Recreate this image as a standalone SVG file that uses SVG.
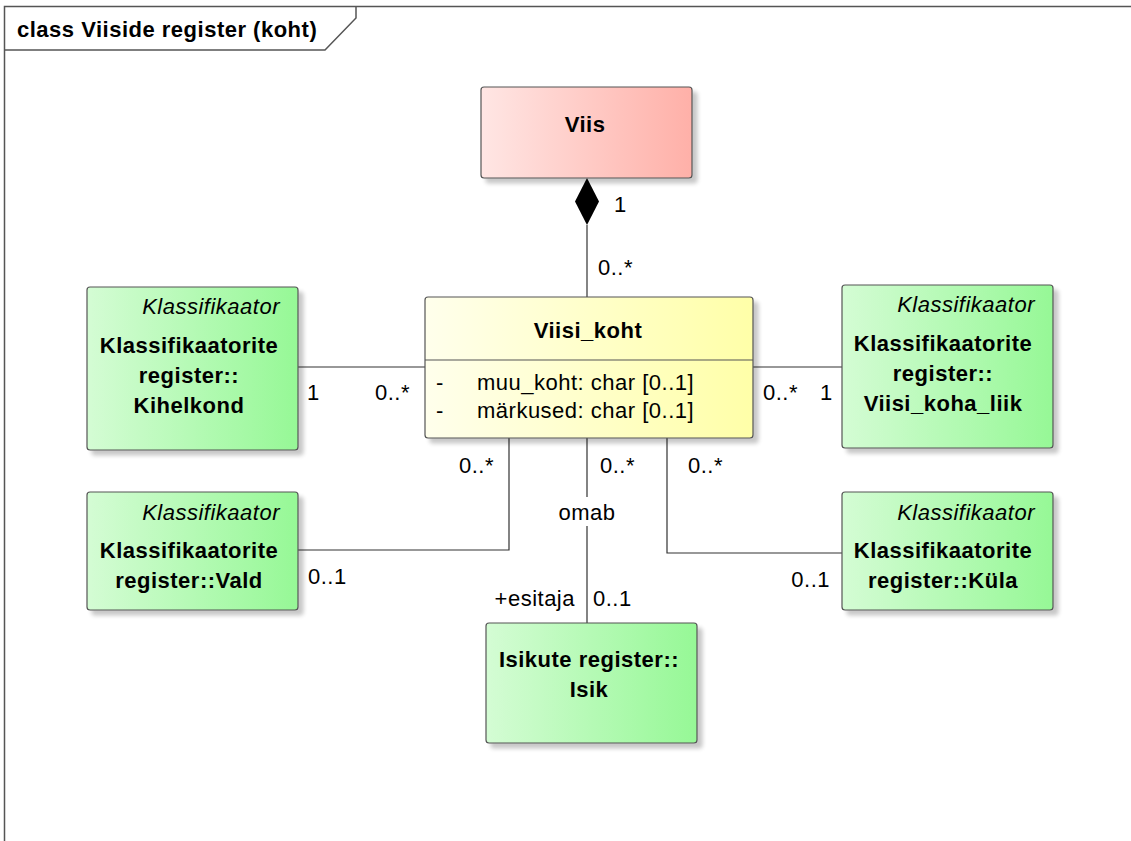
<svg xmlns="http://www.w3.org/2000/svg" width="1131" height="841" viewBox="0 0 1131 841">
<style>
text{font-family:"Liberation Sans",Arial,sans-serif;font-size:22px;letter-spacing:0.5px;fill:#000}
.b{font-weight:bold}
.i{font-style:italic}
.m{text-anchor:middle}
.e{text-anchor:end}
.box{stroke:#555;stroke-width:1.2}
.ln{stroke:#333;stroke-width:1.2;fill:none}
.frame{stroke:#555;stroke-width:1.5;fill:none}
</style>
<defs>
<linearGradient id="gGreen" x1="0" y1="0" x2="1" y2="0"><stop offset="0" stop-color="#D4FCD4"/><stop offset="1" stop-color="#96F896"/></linearGradient>
<linearGradient id="gYellow" x1="0" y1="0" x2="1" y2="0"><stop offset="0" stop-color="#FFFFEC"/><stop offset="1" stop-color="#FFFFA8"/></linearGradient>
<linearGradient id="gPink" x1="0" y1="0" x2="1" y2="0"><stop offset="0" stop-color="#FFE6E4"/><stop offset="1" stop-color="#FFB0A8"/></linearGradient>
<filter id="sh" x="-10%" y="-10%" width="130%" height="130%"><feGaussianBlur in="SourceAlpha" stdDeviation="2"/><feOffset dx="5" dy="5" result="o"/><feComponentTransfer><feFuncA type="linear" slope="0.22"/></feComponentTransfer><feMerge><feMergeNode/><feMergeNode in="SourceGraphic"/></feMerge></filter>
</defs>
<rect width="1131" height="841" fill="#fff"/>
<g id="frame">
<path class="frame" d="M4.5,841 V6.5 H1131"/>
<path class="frame" d="M4.5,50 H325 L356,18 V6.5"/>
<text class="b" x="17" y="37">class Viiside register (koht)</text>
</g>
<g id="connectors">
<line class="ln" x1="587" y1="225" x2="587" y2="297"/>
<path d="M587,178 L599,201.5 L587,225 L575,201.5 Z" fill="#000"/>
<text x="614" y="212">1</text>
<text x="598" y="275">0..*</text>
<line class="ln" x1="298" y1="367" x2="425" y2="367"/>
<text x="307" y="400">1</text>
<text x="375" y="400">0..*</text>
<line class="ln" x1="753" y1="367" x2="842" y2="367"/>
<text x="763" y="400">0..*</text>
<text x="820" y="400">1</text>
<path class="ln" d="M509,438 V550 H298"/>
<text x="459" y="473">0..*</text>
<text x="308" y="584">0..1</text>
<path class="ln" d="M587,438 V497 M587,526 V623"/>
<text class="m" x="587" y="520">omab</text>
<text x="600" y="473">0..*</text>
<text class="e" x="575" y="606">+esitaja</text>
<text x="593" y="606">0..1</text>
<path class="ln" d="M667,438 V553 H842"/>
<text x="688" y="473">0..*</text>
<text class="e" x="830" y="587">0..1</text>
</g>
<g id="Viis">
<rect class="box" x="481" y="87" width="211" height="91" rx="3" fill="url(#gPink)" filter="url(#sh)"/>
<text class="b m" x="585" y="132">Viis</text>
</g>
<g id="Viisi_koht">
<rect class="box" x="425" y="297" width="328" height="141" rx="3" fill="url(#gYellow)" filter="url(#sh)"/>
<line class="box" x1="425" y1="360" x2="753" y2="360"/>
<text class="b m" x="588" y="338">Viisi_koht</text>
<text x="436" y="390">-</text>
<text x="477" y="390">muu_koht: char [0..1]</text>
<text x="436" y="418">-</text>
<text x="477" y="418">märkused: char [0..1]</text>
</g>
<g id="Kihelkond">
<rect class="box" x="87" y="287" width="211" height="163" rx="3" fill="url(#gGreen)" filter="url(#sh)"/>
<text class="i e" x="280" y="314">Klassifikaator</text>
<text class="b m" x="189" y="353">Klassifikaatorite</text>
<text class="b m" x="189" y="383">register::</text>
<text class="b m" x="189" y="413">Kihelkond</text>
</g>
<g id="Viisi_koha_liik">
<rect class="box" x="842" y="285" width="211" height="163" rx="3" fill="url(#gGreen)" filter="url(#sh)"/>
<text class="i e" x="1035" y="312">Klassifikaator</text>
<text class="b m" x="943" y="351">Klassifikaatorite</text>
<text class="b m" x="943" y="381">register::</text>
<text class="b m" x="943" y="411">Viisi_koha_liik</text>
</g>
<g id="Vald">
<rect class="box" x="87" y="492" width="211" height="118" rx="3" fill="url(#gGreen)" filter="url(#sh)"/>
<text class="i e" x="280" y="520">Klassifikaator</text>
<text class="b m" x="189" y="558">Klassifikaatorite</text>
<text class="b m" x="189" y="588">register::Vald</text>
</g>
<g id="Kula">
<rect class="box" x="842" y="492" width="211" height="118" rx="3" fill="url(#gGreen)" filter="url(#sh)"/>
<text class="i e" x="1035" y="520">Klassifikaator</text>
<text class="b m" x="943" y="558">Klassifikaatorite</text>
<text class="b m" x="943" y="588">register::Küla</text>
</g>
<g id="Isik">
<rect class="box" x="486" y="623" width="211" height="120" rx="3" fill="url(#gGreen)" filter="url(#sh)"/>
<text class="b m" x="589" y="667">Isikute register::</text>
<text class="b m" x="589" y="697">Isik</text>
</g>
</svg>
